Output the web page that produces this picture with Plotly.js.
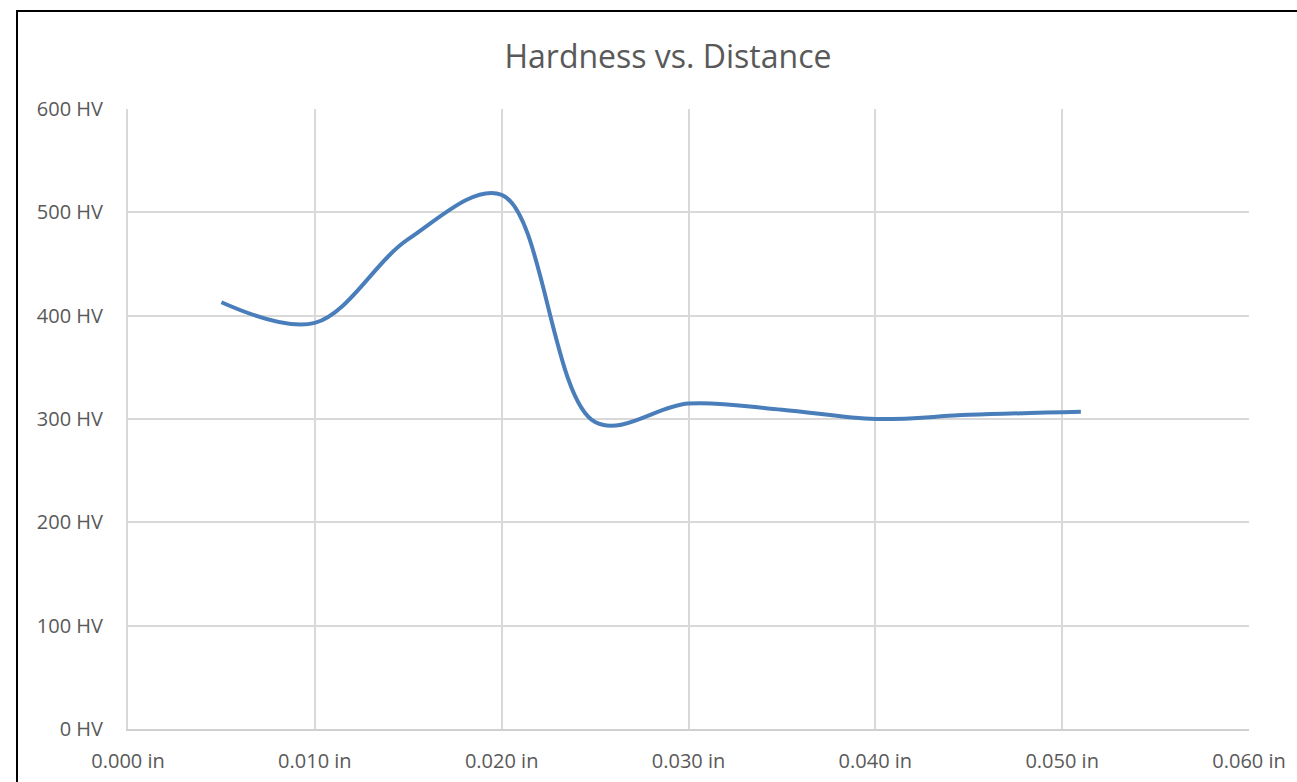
<!DOCTYPE html>
<html>
<head>
<meta charset="utf-8">
<script src="https://cdn.plot.ly/plotly-3.0.1.min.js"></script>
<style>
  html, body { margin: 0; padding: 0; background: #fff; overflow: hidden; }
  #chart { width: 1297px; height: 782px; }
</style>
</head>
<body>
<div id="chart"></div>
<script>
// Distance from surface (in) and Vickers hardness (HV)
const distance = [0.005, 0.010, 0.015, 0.020, 0.025, 0.030, 0.035, 0.040, 0.045, 0.051];
const hardness = [413, 393, 474, 517, 297, 315, 309, 300, 304, 307];
const xTickVals = [0, 0.01, 0.02, 0.03, 0.04, 0.05, 0.06];
const xTickText = ["0.000 in", "0.010 in", "0.020 in", "0.030 in", "0.040 in", "0.050 in", "0.060 in"];
const yTickVals = [0, 100, 200, 300, 400, 500, 600];
const yTickText = ["0 HV", "100 HV", "200 HV", "300 HV", "400 HV", "500 HV", "600 HV"];

const font = "'Open Sans', 'Noto Sans', sans-serif";

Plotly.newPlot("chart", [{
  x: distance,
  y: hardness,
  type: "scatter",
  mode: "lines",
  line: { shape: "spline", smoothing: 1, color: "#4a7ebb", width: 4 },
  hoverinfo: "x+y"
}], {
  width: 1297,
  height: 782,
  margin: { l: 128, r: 48, t: 109, b: 53 },
  paper_bgcolor: "#ffffff",
  plot_bgcolor: "#ffffff",
  showlegend: false,
  title: {
    text: "Hardness vs. Distance",
    font: { family: font, size: 32, color: "#595959" },
    x: 0.515, xanchor: "center",
    y: 0.928, yanchor: "middle"
  },
  xaxis: {
    range: [0, 0.06],
    tickvals: xTickVals,
    ticktext: xTickText,
    showgrid: true,
    gridcolor: "#d9d9d9",
    gridwidth: 2,
    zeroline: false,
    showline: true,
    linecolor: "#d0d0d0",
    linewidth: 2,
    ticks: "",
    ticklabelstandoff: 13,
    tickfont: { family: font, size: 20, color: "#595959" },
    fixedrange: true
  },
  yaxis: {
    range: [0, 600],
    tickvals: yTickVals,
    ticktext: yTickText,
    showgrid: true,
    gridcolor: "#d9d9d9",
    gridwidth: 2,
    zeroline: false,
    showline: true,
    linecolor: "#d9d9d9",
    linewidth: 2,
    ticks: "",
    ticklabelstandoff: 19,
    tickfont: { family: font, size: 20, color: "#595959" },
    fixedrange: true
  },
  shapes: [{
    type: "rect",
    xref: "paper", yref: "paper",
    x0: (17 - 128) / 1121, x1: 1.2,
    y0: -0.3, y1: (729 - 11) / 620,
    line: { color: "#000000", width: 2 },
    fillcolor: "rgba(0,0,0,0)",
    layer: "above"
  }]
}, { displayModeBar: false, staticPlot: true });
</script>
</body>
</html>
